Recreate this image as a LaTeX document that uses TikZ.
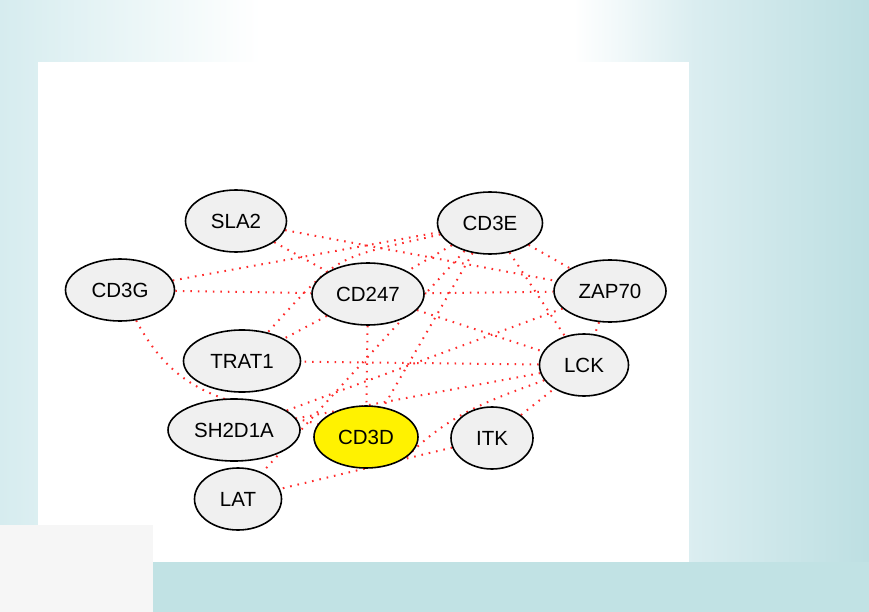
\documentclass[tikz,border=0pt]{standalone}
\usepackage{fontspec}
\setmainfont{Liberation Sans}
\usetikzlibrary{shapes.geometric}
\pgfdeclarelayer{bg}
\pgfdeclarelayer{edges}
\pgfsetlayers{bg,edges,main}
\definecolor{nodefill}{HTML}{F0F0F0}
\definecolor{linkred}{HTML}{FF2B2B}
\definecolor{tealA}{HTML}{D6ECEF}
\definecolor{tealL}{HTML}{EDF7F8}
\definecolor{tealM}{HTML}{DAEDF0}
\definecolor{tealB}{HTML}{BDDFE2}
\definecolor{tealC}{HTML}{C1E2E4}
\definecolor{panelgray}{HTML}{F6F6F6}
% soft horizontal page gradient: teal edges, white centre
% (TikZ maps the 25bp--75bp band of a shading onto the filled path)
\pgfdeclarehorizontalshading{pagebg}{100bp}{color(0bp)=(tealA); color(25bp)=(tealA);
  color(33.5bp)=(tealL); color(40bp)=(white); color(58bp)=(white);
  color(65bp)=(tealM); color(75bp)=(tealB); color(100bp)=(tealB)}
\begin{document}
\begin{tikzpicture}[x=1pt,y=-1pt,
  gene/.style={ellipse, draw=black, line width=1.6pt, fill=nodefill,
    inner sep=0pt, minimum height=62pt, font=\fontsize{20.5}{24}\selectfont},
  query/.style={gene, fill=yellow},
  link/.style={draw=linkred, line width=2pt, dash pattern=on 1.6pt off 5.9pt}]
\useasboundingbox (0,0) rectangle (869,612);

% page background and white canvas
\begin{pgfonlayer}{bg}
  \shade[shading=pagebg] (0,0) rectangle (869,612);
  \fill[tealC] (0,562) rectangle (869,612);
  \fill[white] (38,62) rectangle (689,562);
  \fill[panelgray] (0,525) rectangle (153,612);
\end{pgfonlayer}

% proteins
\node[gene, minimum width=101pt] (sla2)   at (236,221) {SLA2};
\node[gene, minimum width=105pt] (cd3e)   at (490,223) {CD3E};
\node[gene, minimum width=109pt] (cd3g)   at (120,290) {CD3G};
\node[gene, minimum width=112pt] (cd247)  at (368,294) {CD247};
\node[gene, minimum width=112pt] (zap70)  at (610,291) {ZAP70};
\node[gene, minimum width=117pt] (trat1)  at (242,361) {TRAT1};
\node[gene, minimum width=89pt]  (lck)    at (584,365) {LCK};
\node[gene, minimum width=132pt] (sh2d1a) at (234,430) {SH2D1A};
\node[query, minimum width=104pt] (cd3d)  at (366,437) {CD3D};
\node[gene, minimum width=82pt]  (itk)    at (492,438) {ITK};
\node[gene, minimum width=87pt]  (lat)    at (238,499) {LAT};

% interactions
\begin{pgfonlayer}{edges}
  \draw[link] (sla2) -- (zap70);
  \draw[link] (sla2) -- (cd247);
  \draw[link] (cd3g) -- (cd3e);
  \draw[link] (cd3g) -- (cd247);
  \draw[link] (cd3g) to[out=-62, in=165, looseness=1.1] (cd3d);
  \draw[link] (cd3e) to[out=193, in=48, looseness=1.4] (trat1);
  \draw[link] (cd3e) -- (cd247);
  \draw[link] (cd3e) -- (cd3d);
  \draw[link] (cd3e) -- (lck);
  \draw[link] (cd3e) -- (zap70);
  \draw[link] (cd3e) -- (lat);
  \draw[link] (cd247) -- (zap70);
  \draw[link] (cd247) -- (lck);
  \draw[link] (cd247) -- (trat1);
  \draw[link] (cd247) -- (cd3d);
  \draw[link] (zap70) -- (lck);
  \draw[link] (zap70) -- (sh2d1a);
  \draw[link] (lck) -- (sh2d1a);
  \draw[link] (lck) -- (trat1);
  \draw[link] (lck.201) to[out=200, in=45] (cd3d.-29);
  \draw[link] (itk) -- (lck);
  \draw[link] (itk) -- (lat);
\end{pgfonlayer}
\end{tikzpicture}
\end{document}
